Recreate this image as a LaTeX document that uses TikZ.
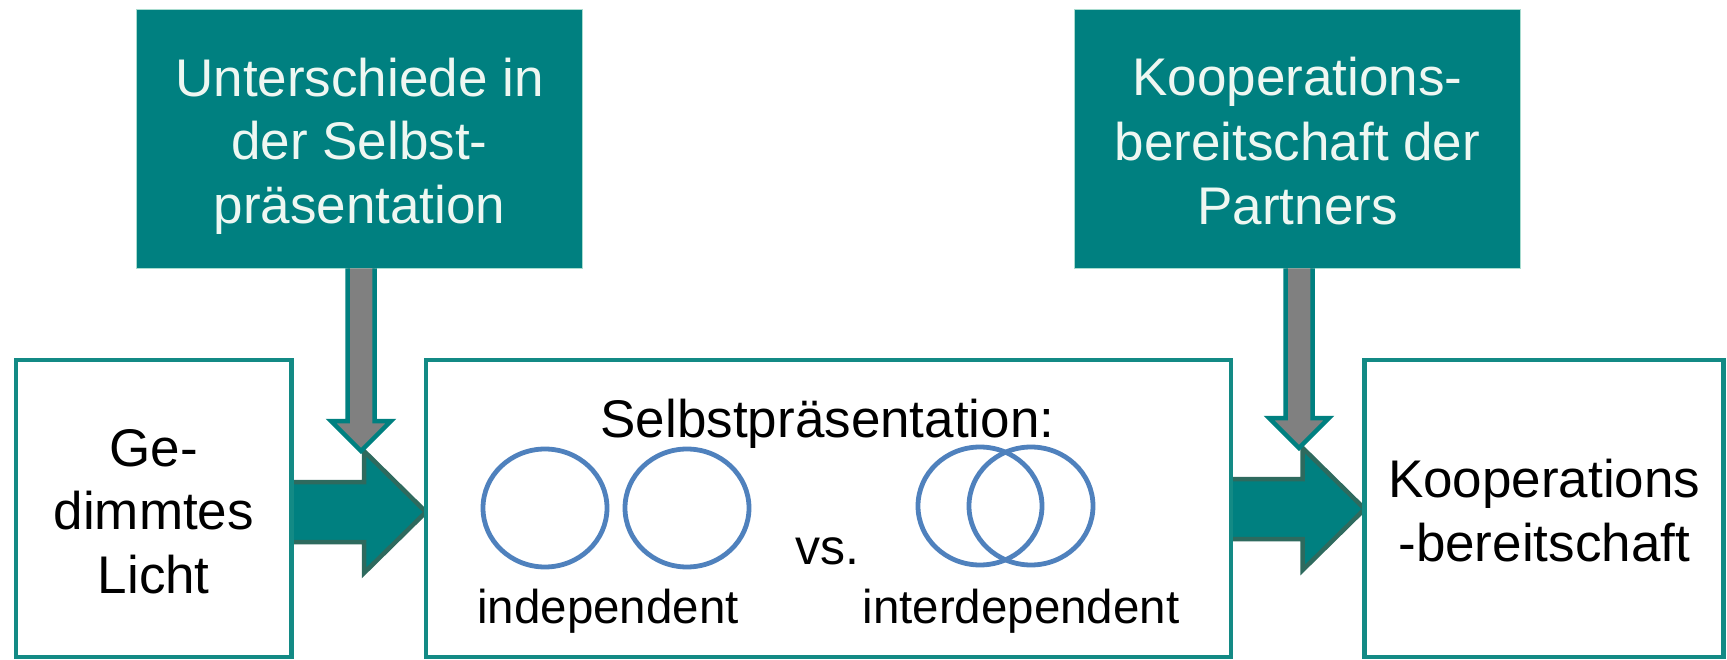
\documentclass[tikz,border=0pt]{standalone}
\usepackage{fontspec}
\setmainfont{Liberation Sans}
\usetikzlibrary{calc,shapes.geometric,backgrounds}

\definecolor{boxteal}{HTML}{008080}
\definecolor{frameteal}{HTML}{138A85}
\definecolor{arrowedge}{HTML}{2E6A5E}
\definecolor{topedge}{HTML}{A8DCCF}
\definecolor{toptext}{HTML}{EEF7F2}
\definecolor{ringblue}{HTML}{4F81BD}
\definecolor{shaftgray}{HTML}{808080}

% equal-height lines so that the node text sits evenly in its box
\newcommand\bxstrut{\rule[-10.75pt]{0pt}{63.5pt}}

\tikzset{
  txt/.style={font=\fontsize{53}{63.5}\selectfont, align=center, inner sep=0pt, outer sep=0pt},
  topbox/.style={txt, draw=topedge, line width=1pt, fill=boxteal, text=toptext,
                 minimum width=446pt, minimum height=259pt},
  stagebox/.style={txt, draw=frameteal, line width=4.5pt, fill=white, minimum height=297pt},
  ring/.style={ellipse, draw=ringblue, line width=4.8pt, minimum width=124pt, minimum height=118pt, inner sep=0pt},
  caption/.style={font=\fontsize{47.5}{57}\selectfont, inner sep=0pt, anchor=base},
  bigarrow/.style={fill=boxteal, draw=arrowedge, line width=4.5pt, line join=miter},
  downarrow/.style={fill=shaftgray, draw=boxteal, line width=4.5pt, line join=miter},
}

\begin{document}
\begin{tikzpicture}[x=1pt,y=-1pt]
\useasboundingbox (0,0) rectangle (1727,660);

% influencing factors
\node[topbox] (cause1) at (359.5,139)
  {\bxstrut Unterschiede in\\\bxstrut der Selbst-\\\bxstrut präsentation};
\node[topbox] (cause2) at (1297.5,139)
  {\bxstrut Kooperations-\\\bxstrut bereitschaft der\\\bxstrut Partners};

% main chain
\node[stagebox, minimum width=275.5pt] (light) at (153.75,508.5)
  {\bxstrut Ge-\\\bxstrut dimmtes\\\bxstrut Licht};
\node[stagebox, minimum width=805pt] (self) at (828.5,508.5) {};
\node[stagebox, minimum width=359pt] (coop) at (1544.2,508.5)
  {\bxstrut Kooperations\\\bxstrut -bereitschaft};

% contents of the middle box
\node[txt, anchor=base] (selftitle) at (827.5,437) {Selbstpräsentation:};
\node[ring] (ia) at (545,508) {};
\node[ring] (ib) at (687,508) {};
\node[ring] (da) at (980,506) {};
\node[ring] (db) at (1031,506) {};
\node[font=\fontsize{50}{60}\selectfont, inner sep=0pt, anchor=base] (vs) at (827,564) {vs.};
\node[caption] (indep) at (608,623) {independent};
\node[caption] (interdep) at (1021,623) {interdependent};

% block arrows between the stages
\coordinate (t1) at ($(self.west)+(0,3.5)$);
\coordinate (s1) at (light.east |- t1);
\coordinate (h1) at ($(t1)+(-62,-61)$);
\coordinate (t2) at ($(coop.west)+(0,0.5)$);
\coordinate (s2) at (self.east |- t2);
\coordinate (h2) at ($(t2)+(-62,-61)$);
\begin{scope}[on background layer]
  \filldraw[bigarrow] ($(s1)+(0,-30)$) -- ($(t1)+(-62,-30)$) -- (h1) -- (t1)
    -- ($(t1)+(-62,61)$) -- ($(t1)+(-62,30)$) -- ($(s1)+(0,30)$);
  \filldraw[bigarrow] ($(s2)+(0,-30)$) -- ($(t2)+(-62,-30)$) -- (h2) -- (t2)
    -- ($(t2)+(-62,61)$) -- ($(t2)+(-62,30)$) -- ($(s2)+(0,30)$);
\end{scope}

% influence arrows from above
\coordinate (g1) at ($(cause1.south |- h1)+(1.5,0)$);
\coordinate (g2) at ($(cause2.south |- h2)+(1.5,0)$);
\coordinate (c1) at (g1 |- cause1.south);
\coordinate (c2) at (g2 |- cause2.south);
\filldraw[downarrow] ($(c1)+(-13.5,0)$) -- ($(g1)+(-13.5,-30)$) -- ($(g1)+(-30,-30)$) -- (g1)
  -- ($(g1)+(30,-30)$) -- ($(g1)+(13.5,-30)$) -- ($(c1)+(13.5,0)$);
\filldraw[downarrow] ($(c2)+(-13.5,0)$) -- ($(g2)+(-13.5,-30)$) -- ($(g2)+(-30,-30)$) -- (g2)
  -- ($(g2)+(30,-30)$) -- ($(g2)+(13.5,-30)$) -- ($(c2)+(13.5,0)$);
\end{tikzpicture}
\end{document}
